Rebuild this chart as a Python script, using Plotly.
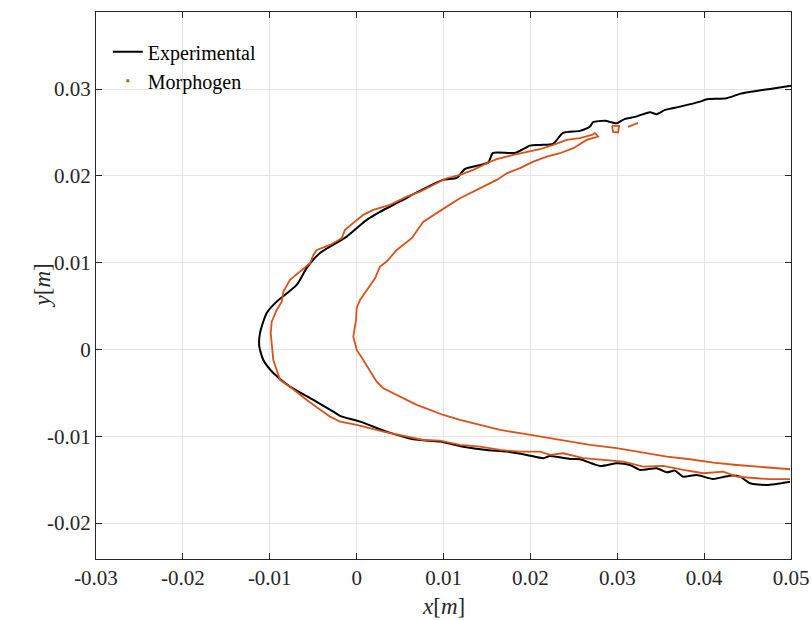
import plotly.graph_objects as go

# Experimental contour (black)
exp_x = [0.05000, 0.04759, 0.04413, 0.04260, 0.04030, 0.03953, 0.03723, 0.03550, 0.03454, 0.03377,
         0.03204, 0.03089, 0.02994, 0.02859, 0.02721, 0.02687, 0.02572, 0.02376, 0.02261, 0.02111,
         0.01996, 0.01824, 0.01570, 0.01513, 0.01248, 0.01152, 0.00995, 0.00730, 0.00500, 0.00269,
         0.00116, -0.00114, -0.00421, -0.00574, -0.00690, -0.00920, -0.01035, -0.01112, -0.01120, -0.01074,
         -0.00959, -0.00767, -0.00498, -0.00268, -0.00191, 0.00039, 0.00346, 0.00653, 0.00960, 0.01228,
         0.01497, 0.01728, 0.01958, 0.02149, 0.02226, 0.02456, 0.02572, 0.02802, 0.02994, 0.03147,
         0.03262, 0.03454, 0.03570, 0.03665, 0.03757, 0.03915, 0.04102, 0.04298, 0.04413, 0.04528,
         0.04721, 0.04989]
exp_y = [0.03039, 0.03001, 0.02944, 0.02894, 0.02883, 0.02855, 0.02797, 0.02759, 0.02710, 0.02733,
         0.02679, 0.02656, 0.02606, 0.02633, 0.02618, 0.02567, 0.02518, 0.02494, 0.02368, 0.02356,
         0.02348, 0.02264, 0.02264, 0.02152, 0.02079, 0.01976, 0.01953, 0.01829, 0.01705, 0.01585,
         0.01492, 0.01300, 0.01112, 0.00939, 0.00743, 0.00551, 0.00421, 0.00190, 0.00032, -0.00121,
         -0.00271, -0.00429, -0.00582, -0.00717, -0.00766, -0.00832, -0.00947, -0.01035, -0.01062, -0.01120,
         -0.01158, -0.01177, -0.01215, -0.01253, -0.01227, -0.01262, -0.01265, -0.01342, -0.01311, -0.01331,
         -0.01388, -0.01369, -0.01415, -0.01396, -0.01465, -0.01446, -0.01492, -0.01454, -0.01465, -0.01541,
         -0.01561, -0.01523]

# Morphogen contour (orange), None separates pieces
mor_x = [0.04989, 0.04759, 0.04606, 0.04375, 0.04221, 0.03991, 0.03761, 0.03530, 0.03300, 0.03070,
         0.02840, 0.02609, 0.02379, 0.02226, 0.02111, 0.01881, 0.01651, 0.01421, 0.01190, 0.00960,
         0.00768, 0.00577, 0.00307, 0.00001, -0.00191, -0.00306, -0.00574, -0.00767, -0.00882, -0.00959,
         -0.00977, -0.00989, -0.00977, -0.00920, -0.00862, -0.00843, -0.00767, -0.00652, -0.00536, -0.00498,
         -0.00459, -0.00306, -0.00172, -0.00134, -0.00038, 0.00077, 0.00192, 0.00384, 0.00577, 0.00730,
         0.00922, 0.01037, 0.01190, 0.01343, 0.01498, 0.01613, 0.01804, 0.01958, 0.02111, 0.02264,
         0.02418, 0.02572, 0.02706, 0.02744, 0.02779, 0.02649, 0.02494, 0.02341, 0.02188, 0.02034,
         0.01881, 0.01728, 0.01613, 0.01458, 0.01343, 0.01190, 0.01037, 0.00922, 0.00768, 0.00634,
         0.00462, 0.00346, 0.00269, 0.00212, 0.00116, 0.00039, 0.00001, -0.00007, -0.00038, 0.00001,
         0.00077, 0.00135, 0.00231, 0.00307, 0.00500, 0.00692, 0.00845, 0.00998, 0.01190, 0.01421,
         0.01651, 0.01881, 0.02111, 0.02226, 0.02456, 0.02686, 0.02994, 0.03300, 0.03570, 0.03838,
         0.04106, 0.04375, 0.04681, 0.04989,
         None, 0.02940, 0.02952, 0.03010, 0.03021, 0.02940,
         None, 0.03124, 0.03239]
mor_y = [-0.01495, -0.01495, -0.01484, -0.01465, -0.01408, -0.01426, -0.01388, -0.01342, -0.01350, -0.01293,
         -0.01273, -0.01253, -0.01196, -0.01215, -0.01177, -0.01177, -0.01158, -0.01120, -0.01100, -0.01051,
         -0.01043, -0.01005, -0.00947, -0.00870, -0.00832, -0.00774, -0.00582, -0.00429, -0.00351, -0.00121,
         0.00052, 0.00187, 0.00320, 0.00455, 0.00551, 0.00666, 0.00801, 0.00896, 0.00993, 0.01089,
         0.01146, 0.01204, 0.01281, 0.01377, 0.01454, 0.01550, 0.01607, 0.01665, 0.01760, 0.01818,
         0.01915, 0.01972, 0.02010, 0.02068, 0.02145, 0.02191, 0.02241, 0.02272, 0.02306, 0.02356,
         0.02414, 0.02433, 0.02471, 0.02491, 0.02452, 0.02414, 0.02318, 0.02260, 0.02221, 0.02164,
         0.02088, 0.02030, 0.01953, 0.01876, 0.01818, 0.01742, 0.01645, 0.01569, 0.01472, 0.01281,
         0.01146, 0.01012, 0.00954, 0.00820, 0.00685, 0.00570, 0.00475, 0.00340, 0.00147, -0.00006,
         -0.00121, -0.00217, -0.00371, -0.00447, -0.00544, -0.00639, -0.00697, -0.00755, -0.00812, -0.00870,
         -0.00927, -0.00965, -0.01005, -0.01023, -0.01062, -0.01100, -0.01138, -0.01189, -0.01235, -0.01265,
         -0.01304, -0.01331, -0.01357, -0.01380,
         None, 0.02575, 0.02506, 0.02500, 0.02575, 0.02575,
         None, 0.02563, 0.02609]

x_ticks = [-0.03, -0.02, -0.01, 0, 0.01, 0.02, 0.03, 0.04, 0.05]
x_tick_text = ["-0.03", "-0.02", "-0.01", "0", "0.01", "0.02", "0.03", "0.04", "0.05"]
y_ticks = [-0.02, -0.01, 0, 0.01, 0.02, 0.03]
y_tick_text = ["-0.02", "-0.01", "0", "0.01", "0.02", "0.03"]

ORANGE = "#D95319"
FONT = "Liberation Serif"

fig = go.Figure()
fig.add_trace(go.Scatter(x=exp_x, y=exp_y, mode="lines", name="Experimental",
                         line=dict(color="black", width=2, shape="spline", smoothing=0.6)))
fig.add_trace(go.Scatter(x=mor_x, y=mor_y, mode="lines", name="Morphogen", showlegend=False,
                         line=dict(color=ORANGE, width=1.8)))
fig.add_trace(go.Scatter(x=[None], y=[None], mode="markers", name="Morphogen",
                         marker=dict(color=ORANGE, size=3, symbol="square")))

axis_common = dict(showline=True, linecolor="#262626", linewidth=1, mirror="allticks",
                   ticks="inside", ticklen=6, tickcolor="#262626", automargin=False,
                   showgrid=True, gridcolor="#e5e5e5", gridwidth=1, zeroline=False,
                   tickfont=dict(family=FONT, size=21, color="#262626"))

fig.update_layout(
    width=812, height=620,
    margin=dict(l=96, r=21, t=12, b=61),
    paper_bgcolor="white", plot_bgcolor="white",
    font=dict(family=FONT, color="#262626"),
    xaxis=dict(range=[-0.03, 0.05], tickvals=x_ticks, ticktext=x_tick_text, **axis_common),
    yaxis=dict(range=[-0.02414, 0.03887], tickvals=y_ticks, ticktext=y_tick_text, **axis_common),
    legend=dict(x=0.017, y=0.963, xanchor="left", yanchor="top", bgcolor="rgba(0,0,0,0)",
                font=dict(family=FONT, size=20, color="black"), tracegroupgap=0),
    showlegend=True,
    annotations=[
        dict(text="<i>x</i>[<i>m</i>]", xref="paper", yref="paper", x=0.5, y=0,
             xanchor="center", yanchor="middle", yshift=-47, showarrow=False,
             font=dict(family=FONT, size=23, color="#262626")),
        dict(text="<i>y</i>[<i>m</i>]", xref="paper", yref="paper", x=0, y=0.5,
             xanchor="center", yanchor="middle", xshift=-54, textangle=-90, showarrow=False,
             font=dict(family=FONT, size=23, color="#262626")),
    ],
)

fig.write_html("out.html", config={"displayModeBar": False},
               post_script="document.body.style.margin='0';document.body.style.overflow='hidden';")
